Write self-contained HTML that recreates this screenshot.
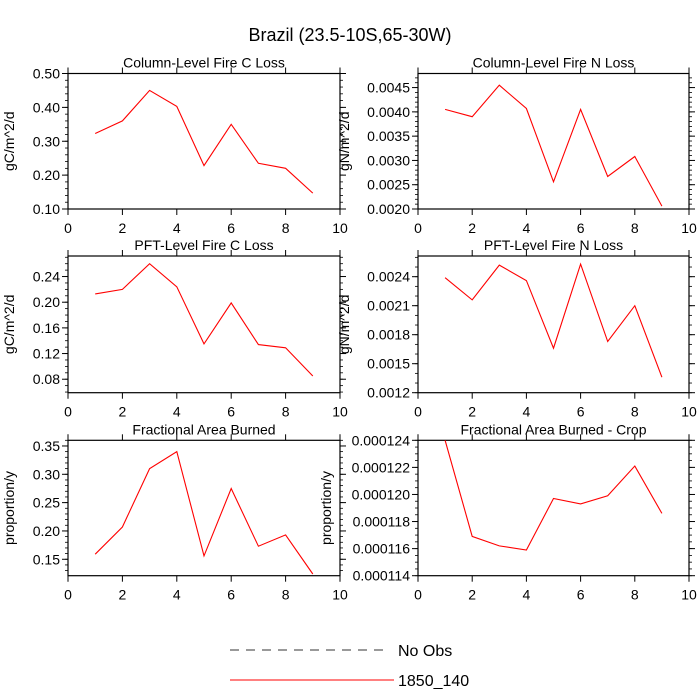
<!DOCTYPE html>
<html><head><meta charset="utf-8"><style>
html,body{margin:0;padding:0;background:#fff;}
svg{display:block;font-family:"Liberation Sans",Arial,sans-serif;}
</style></head><body>
<svg id="c" width="700" height="700" viewBox="0 0 700 700">
<text x="350" y="41" text-anchor="middle" font-size="18">Brazil (23.5-10S,65-30W)</text>
<g>
<line x1="230" y1="650" x2="390" y2="650" stroke="#333" stroke-dasharray="9,7"/>
<text x="398" y="656" font-size="16">No Obs</text>
<line x1="230" y1="680" x2="394" y2="680" stroke="#f00"/>
<text x="398" y="686" font-size="16">1850_140</text>
</g>
</svg>
<script>
const xCats=[1,2,3,4,5,6,7,8,9];
const xTicks=[0,2,4,6,8,10];
const p1Vals=[0.323,0.36,0.45,0.403,0.228,0.35,0.235,0.22,0.147];
const p2Vals=[0.00405,0.0039,0.00455,0.00407,0.00256,0.00405,0.00267,0.00308,0.00206];
const p3Vals=[0.213,0.220,0.260,0.224,0.135,0.199,0.134,0.129,0.085];
const p4Vals=[0.00239,0.00216,0.00252,0.00236,0.00166,0.00253,0.00173,0.00210,0.00136];
const p5Vals=[0.159,0.207,0.31,0.34,0.156,0.275,0.173,0.193,0.124];
const p6Vals=[0.000124,0.0001169,0.0001162,0.0001159,0.0001197,0.0001193,0.0001199,0.0001221,0.0001186];
const p1Ticks=["0.10","0.20","0.30","0.40","0.50"];
const p2Ticks=["0.0020","0.0025","0.0030","0.0035","0.0040","0.0045"];
const p3Ticks=["0.08","0.12","0.16","0.20","0.24"];
const p4Ticks=["0.0012","0.0015","0.0018","0.0021","0.0024"];
const p5Ticks=["0.15","0.20","0.25","0.30","0.35"];
const p6Ticks=["0.000114","0.000116","0.000118","0.000120","0.000122","0.000124"];
const panels=[
 {name:"column-fire-c",title:"Column-Level Fire C Loss",ylab:"gC/m^2/d",vals:p1Vals,ticks:p1Ticks,min:0.10,max:0.50,minor:5,x0:68,x1:340,y0:73.5,y1:209,lx:14},
 {name:"column-fire-n",title:"Column-Level Fire N Loss",ylab:"gN/m^2/d",vals:p2Vals,ticks:p2Ticks,min:0.0020,max:0.00479,minor:5,x0:418,x1:689,y0:73.5,y1:209,lx:349},
 {name:"pft-fire-c",title:"PFT-Level Fire C Loss",ylab:"gC/m^2/d",vals:p3Vals,ticks:p3Ticks,min:0.059,max:0.272,minor:4,x0:68,x1:340,y0:256,y1:392.7,lx:14},
 {name:"pft-fire-n",title:"PFT-Level Fire N Loss",ylab:"gN/m^2/d",vals:p4Vals,ticks:p4Ticks,min:0.0012,max:0.002614,minor:3,x0:418,x1:689,y0:256,y1:392.7,lx:349},
 {name:"area-burned",title:"Fractional Area Burned",ylab:"proportion/y",vals:p5Vals,ticks:p5Ticks,min:0.121,max:0.360,minor:5,x0:68,x1:340,y0:440.3,y1:575.7,lx:14},
 {name:"area-burned-crop",title:"Fractional Area Burned - Crop",ylab:"proportion/y",vals:p6Vals,ticks:p6Ticks,min:0.000114,max:0.000124,minor:4,x0:418,x1:689,y0:440.3,y1:575.7,lx:331}
];
const NS="http://www.w3.org/2000/svg";
const svg=document.getElementById('c');
function mk(t,a,p){const e=document.createElementNS(NS,t);for(const k in a)e.setAttribute(k,a[k]);p.appendChild(e);return e;}
panels.forEach(p=>{
 const g=mk('g',{},svg);
 
 
 const xs=v=>p.x0+(v-0)/(10-0)*(p.x1-p.x0);
 const ys=v=>p.y1-(v-p.min)/(p.max-p.min)*(p.y1-p.y0);
 const fr=mk('rect',{x:p.x0,y:p.y0,width:p.x1-p.x0,height:p.y1-p.y0,fill:'none',stroke:'#000','stroke-width':1.2},g);
 
 
 xTicks.forEach(t=>{
  const x=xs(t);
  mk('line',{x1:x,y1:p.y1,x2:x,y2:p.y1+6,stroke:'#000'},g);
  mk('line',{x1:x,y1:p.y0,x2:x,y2:p.y0-6,stroke:'#000'},g);
  const tl=mk('text',{x:x,y:p.y1+24,'text-anchor':'middle','font-size':14},g);
  tl.textContent=t;
  
  
 });
 const t0=parseFloat(p.ticks[0]),step=parseFloat(p.ticks[1])-t0;
 const ms=step/p.minor;
 for(let v=t0-5*ms;v<=p.max+1e-12;v+=ms){
  if(v<p.min-1e-12)continue;
  const y=ys(v);
  mk('line',{x1:p.x0,y1:y,x2:p.x0-3,y2:y,stroke:'#000','stroke-width':0.8},g);
  mk('line',{x1:p.x1,y1:y,x2:p.x1+3,y2:y,stroke:'#000','stroke-width':0.8},g);
 }
 p.ticks.forEach(t=>{
  const y=ys(parseFloat(t));
  mk('line',{x1:p.x0,y1:y,x2:p.x0-6,y2:y,stroke:'#000'},g);
  mk('line',{x1:p.x1,y1:y,x2:p.x1+6,y2:y,stroke:'#000'},g);
  const tl=mk('text',{x:p.x0-8,y:y+5,'text-anchor':'end','font-size':14},g);
  tl.textContent=t;
  
  
 });
 const tt=mk('text',{x:(p.x0+p.x1)/2,y:p.y0-6,'text-anchor':'middle','font-size':14},g);
 tt.textContent=p.title;
 
 
 const cy=(p.y0+p.y1)/2;
 const yl=mk('text',{x:p.lx,y:cy,'text-anchor':'middle','font-size':14,transform:`rotate(-90 ${p.lx} ${cy})`},g);
 yl.textContent=p.ylab;
 
 
 const pts=xCats.map((c,i)=>xs(c).toFixed(1)+','+ys(p.vals[i]).toFixed(1)).join(' ');
 const ln=mk('polyline',{points:pts,fill:'none',stroke:'#f00','stroke-width':1.1},g);
 
 
});
</script>
</body></html>
